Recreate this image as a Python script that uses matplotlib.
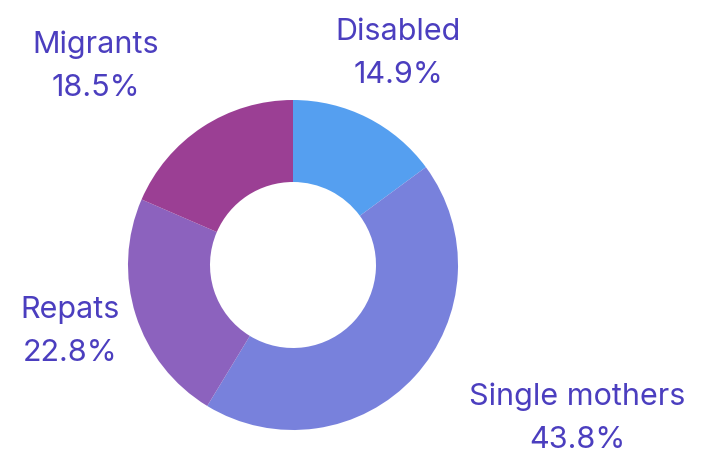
import matplotlib.pyplot as plt

# Daten
categories = ['Disabled', 'Single mothers', 'Repats', 'Migrants']
shares = [14.9, 43.8, 22.8, 18.5]
colors = ['#559FF0', '#7881DC', '#8C62BE', '#9B3F94']

# Label-Positionen (Pixel, Ursprung oben links)
label_pos = [(398, 32), (577, 397), (70, 310), (96, 45)]

plt.rcParams['font.family'] = ['Inter', 'DejaVu Sans']
text_color = '#4B3EBF'

W, H = 709, 453
fig = plt.figure(figsize=(W / 100, H / 100), dpi=100)
ax = fig.add_axes([0, 0, 1, 1])

ax.pie(shares, colors=colors, startangle=90, counterclock=False,
       center=(293, H - 265), radius=165,
       wedgeprops=dict(width=82, linewidth=0), frame=True)
ax.set_xlim(0, W)
ax.set_ylim(0, H)
ax.set_aspect('equal')
ax.axis('off')

for cat, val, (x, y) in zip(categories, shares, label_pos):
    ax.text(x, H - y, cat, ha='center', va='center', fontsize=22, color=text_color)
    ax.text(x, H - y - 43, f'{val:.1f}%', ha='center', va='center', fontsize=22, color=text_color)

plt.savefig('out.png', dpi=100)
